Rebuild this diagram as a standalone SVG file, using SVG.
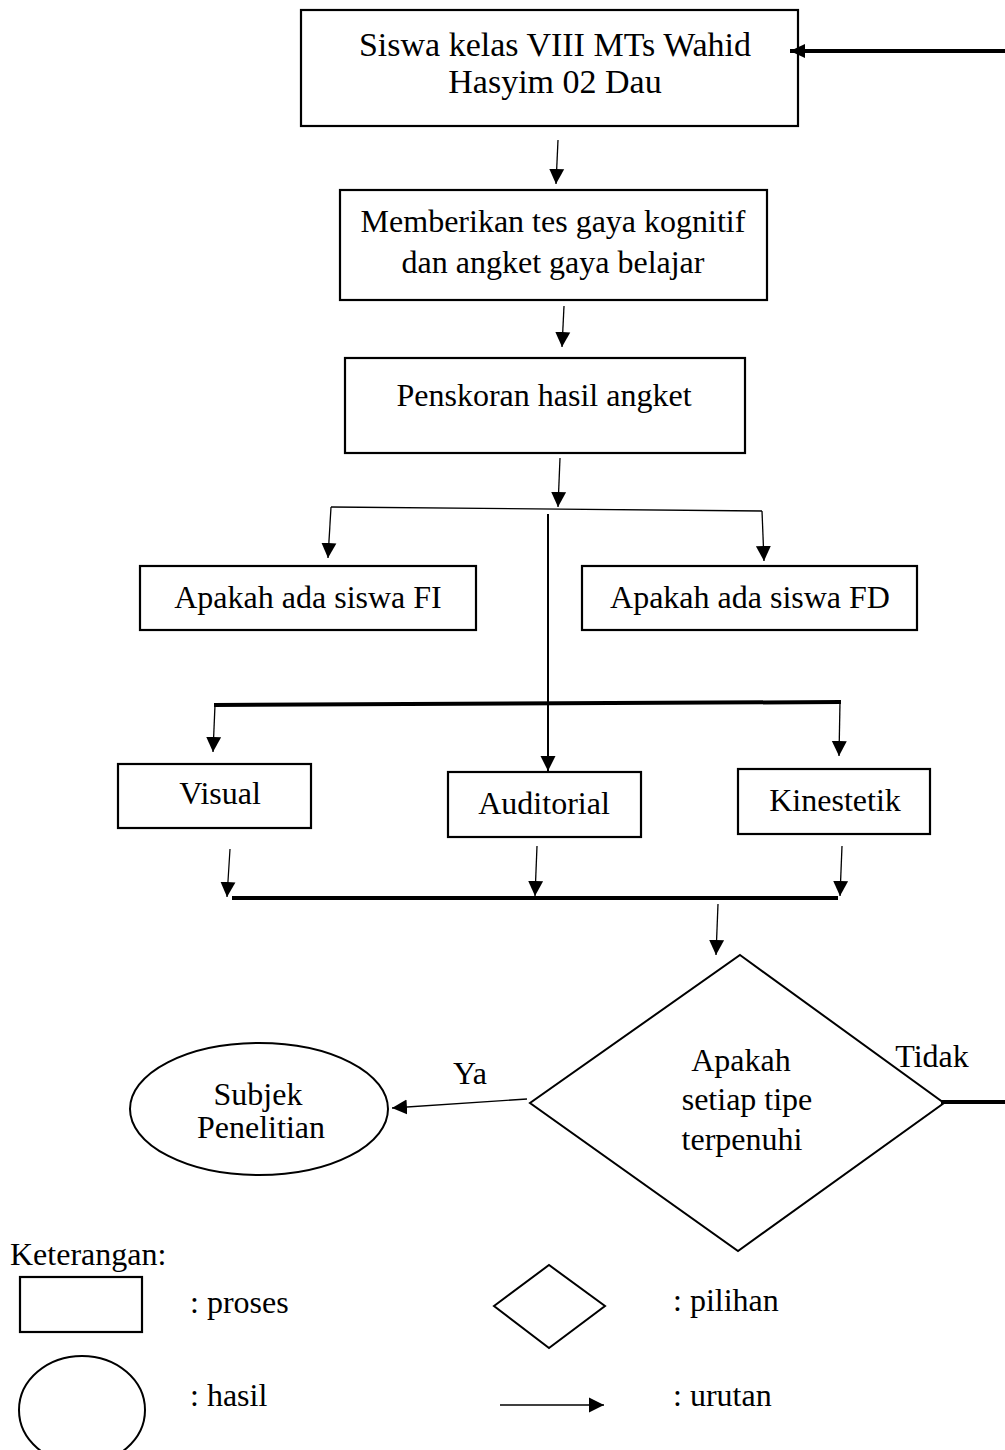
<svg xmlns="http://www.w3.org/2000/svg" width="1005" height="1450" viewBox="0 0 1005 1450">
  <style>
    text { font-family: "Liberation Serif", "Times New Roman", serif; font-size: 32px; fill: #000; }
    .c { text-anchor: middle; }
    .big { font-size: 34px; }
    .box { fill: #fff; stroke: #000; stroke-width: 2.2; }
    .shape { fill: #fff; stroke: #000; stroke-width: 2; }
    .thin { fill: none; stroke: #000; stroke-width: 1.3; }
    .mid { fill: none; stroke: #000; stroke-width: 2; }
    .bold { fill: none; stroke: #000; stroke-width: 4; }
  </style>
  <defs>
    <marker id="head" markerUnits="userSpaceOnUse" markerWidth="16" markerHeight="16" viewBox="0 0 16 16" refX="15" refY="8" orient="auto">
      <path d="M0,0.5 L15,8 L0,15.5 z" fill="#000"/>
    </marker>
    <marker id="head-sm" markerUnits="userSpaceOnUse" markerWidth="16" markerHeight="14" viewBox="0 0 16 14" refX="15" refY="7" orient="auto">
      <path d="M0,0 L15,7 L0,14 z" fill="#000"/>
    </marker>
  </defs>

  <!-- process boxes -->
  <g id="n-siswa">
    <rect class="box" x="301" y="10" width="497" height="116"/>
    <text class="c big" x="555" y="56">Siswa kelas VIII MTs Wahid</text>
    <text class="c big" x="555" y="93">Hasyim 02 Dau</text>
  </g>
  <g id="n-tes">
    <rect class="box" x="340" y="190" width="427" height="110"/>
    <text class="c" x="553" y="232">Memberikan tes gaya kognitif</text>
    <text class="c" x="553" y="273">dan angket gaya belajar</text>
  </g>
  <g id="n-skor">
    <rect class="box" x="345" y="358" width="400" height="95"/>
    <text class="c" x="544" y="406">Penskoran hasil angket</text>
  </g>
  <g id="n-fi">
    <rect class="box" x="140" y="566" width="336" height="64"/>
    <text class="c" x="308" y="608">Apakah ada siswa FI</text>
  </g>
  <g id="n-fd">
    <rect class="box" x="582" y="566" width="335" height="64"/>
    <text class="c" x="750" y="608">Apakah ada siswa FD</text>
  </g>
  <g id="n-visual">
    <rect class="box" x="118" y="764" width="193" height="64"/>
    <text class="c" x="220" y="804">Visual</text>
  </g>
  <g id="n-auditorial">
    <rect class="box" x="448" y="772" width="193" height="65"/>
    <text class="c" x="544" y="814">Auditorial</text>
  </g>
  <g id="n-kinestetik">
    <rect class="box" x="738" y="769" width="192" height="65"/>
    <text class="c" x="835" y="811">Kinestetik</text>
  </g>

  <!-- decision -->
  <g id="n-cek">
    <polygon class="shape" points="740,955 944,1103 738,1251 530,1103"/>
    <text class="c" x="741" y="1071">Apakah</text>
    <text class="c" x="747" y="1110">setiap tipe</text>
    <text class="c" x="742" y="1150">terpenuhi</text>
  </g>

  <!-- result -->
  <g id="n-subjek">
    <ellipse class="shape" cx="259" cy="1109" rx="129" ry="66"/>
    <text class="c" x="258" y="1105">Subjek</text>
    <text class="c" x="261" y="1138">Penelitian</text>
  </g>

  <!-- connectors -->
  <g id="connectors">
    <line class="bold" x1="1005" y1="51" x2="790" y2="51" stroke-width="3" marker-end="url(#head-sm)"/>
    <line class="thin" x1="558" y1="140" x2="556" y2="184" marker-end="url(#head)"/>
    <line class="thin" x1="564" y1="306" x2="562" y2="347" marker-end="url(#head)"/>
    <line class="thin" x1="560" y1="458" x2="558" y2="507" marker-end="url(#head)"/>
    <polyline class="thin" points="331,507 762,511"/>
    <line class="thin" x1="331" y1="507" x2="328" y2="558" marker-end="url(#head)"/>
    <line class="thin" x1="762" y1="511" x2="764" y2="561" marker-end="url(#head)"/>
    <line class="mid" x1="548" y1="514" x2="548" y2="771" marker-end="url(#head)"/>
    <line class="bold" x1="214" y1="705" x2="841" y2="702"/>
    <line class="thin" x1="215" y1="705" x2="213" y2="752" marker-end="url(#head)"/>
    <line class="thin" x1="840" y1="702" x2="839" y2="756" marker-end="url(#head)"/>
    <line class="thin" x1="230" y1="849" x2="227" y2="897" marker-end="url(#head)"/>
    <line class="thin" x1="537" y1="846" x2="535" y2="896" marker-end="url(#head)"/>
    <line class="thin" x1="842" y1="846" x2="840" y2="896" marker-end="url(#head)"/>
    <line class="bold" x1="232" y1="898" x2="838" y2="898"/>
    <line class="thin" x1="718" y1="904" x2="716" y2="955" marker-end="url(#head)"/>
    <line class="thin" x1="527" y1="1099" x2="392" y2="1108" marker-end="url(#head)"/>
    <line class="bold" x1="941" y1="1102" x2="1005" y2="1102" stroke-width="3"/>
    <text class="c" x="470" y="1084">Ya</text>
    <text class="c" x="932" y="1067">Tidak</text>
  </g>

  <!-- legend -->
  <g id="legend">
    <text x="10" y="1265">Keterangan:</text>
    <rect class="box" x="20" y="1277" width="122" height="55"/>
    <text x="190" y="1313">: proses</text>
    <polygon class="shape" points="494,1306 549,1265 605,1306 549,1348"/>
    <text x="673" y="1311">: pilihan</text>
    <ellipse class="shape" cx="82" cy="1410" rx="63" ry="54"/>
    <text x="190" y="1406">: hasil</text>
    <line class="thin" x1="500" y1="1405" x2="604" y2="1405" marker-end="url(#head)"/>
    <text x="673" y="1406">: urutan</text>
  </g>
</svg>
